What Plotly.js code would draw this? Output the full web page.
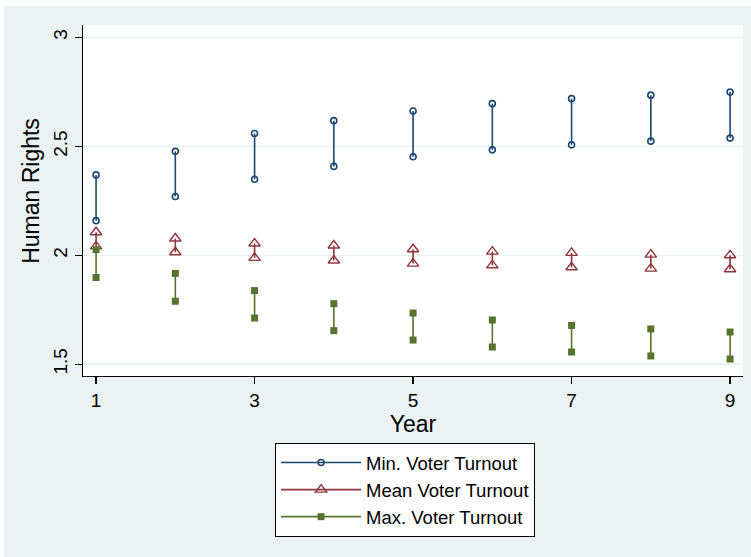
<!DOCTYPE html>
<html>
<head>
<meta charset="utf-8">
<script src="https://cdn.plot.ly/plotly-3.0.1.min.js"></script>
<style>
  html, body { margin: 0; padding: 0; background: #ffffff; }
  #chart { position: absolute; left: 4px; top: 6px; width: 747px; height: 551px; }
</style>
</head>
<body>
<div id="chart"></div>
<script>
// Data
const years = [1, 2, 3, 4, 5, 6, 7, 8, 9];
const minHi = [2.369, 2.477, 2.559, 2.618, 2.662, 2.696, 2.719, 2.735, 2.749];
const minLo = [2.159, 2.270, 2.349, 2.408, 2.452, 2.484, 2.507, 2.524, 2.538];
const meanHi = [2.106, 2.077, 2.054, 2.045, 2.028, 2.017, 2.011, 2.003, 2.000];
const meanLo = [2.041, 2.014, 1.988, 1.976, 1.962, 1.954, 1.945, 1.939, 1.936];
const maxHi = [2.026, 1.917, 1.838, 1.778, 1.735, 1.703, 1.678, 1.662, 1.648];
const maxLo = [1.898, 1.789, 1.712, 1.654, 1.611, 1.579, 1.556, 1.538, 1.524];
const seriesNames = ["Min. Voter Turnout", "Mean Voter Turnout", "Max. Voter Turnout"];
const xTicks = [1, 3, 5, 7, 9];
const yTicks = [1.5, 2, 2.5, 3];
const yTickText = ["1.5", "2", "2.5", "3"];
const xTitle = "Year";
const yTitle = "Human Rights";

function capPairs(hi, lo) {
  const xs = [], ys = [];
  years.forEach((yr, i) => {
    xs.push(yr, yr, null);
    ys.push(hi[i], lo[i], null);
  });
  return { xs, ys };
}

const styles = [
  { color: "#1a476f", symbol: "circle-open", size: 6, lw: 1.6 },
  { color: "#90353b", symbol: "triangle-up-open", size: 10, lw: 1.4 },
  { color: "#55752f", symbol: "square", size: 7, lw: 0 }
];
const pairs = [capPairs(minHi, minLo), capPairs(meanHi, meanLo), capPairs(maxHi, maxLo)];

const traces = pairs.map((p, k) => ({
  type: "scatter",
  mode: "lines+markers",
  x: p.xs,
  y: p.ys,
  name: seriesNames[k],
  connectgaps: false,
  line: { color: styles[k].color, width: 1.6 },
  marker: {
    symbol: styles[k].symbol,
    size: styles[k].size,
    color: styles[k].color,
    line: { color: styles[k].color, width: styles[k].lw }
  },
  hoverinfo: "x+y"
}));

const fontFam = "'Liberation Sans', Arial, Helvetica, sans-serif";

const layout = {
  width: 747,
  height: 551,
  paper_bgcolor: "#eaf2f3",
  plot_bgcolor: "#ffffff",
  margin: { l: 79, r: 8, t: 19, b: 181 },
  font: { family: fontFam, color: "#000000", size: 19 },
  showlegend: true,
  legend: {
    x: 0.291, xanchor: "left",
    y: -0.191, yanchor: "top",
    bgcolor: "#ffffff",
    bordercolor: "#000000",
    borderwidth: 1,
    font: { family: fontFam, size: 18.5, color: "#000000" },
    itemwidth: 80,
    traceorder: "normal"
  },
  xaxis: {
    range: [0.835, 9.163],
    tickvals: xTicks,
    ticktext: xTicks.map(String),
    ticks: "outside",
    ticklen: 7,
    tickwidth: 1.2,
    tickcolor: "#000000",
    showline: true,
    linecolor: "#000000",
    linewidth: 1.3,
    showgrid: false,
    zeroline: false,
    tickfont: { family: fontFam, size: 19 },
    title: { text: xTitle, font: { family: fontFam, size: 23 }, standoff: 0 }
  },
  yaxis: {
    range: [1.446, 3.057],
    tickvals: yTicks,
    ticktext: yTickText,
    tickangle: -90,
    ticks: "outside",
    ticklen: 7,
    tickwidth: 1.2,
    tickcolor: "#000000",
    showline: true,
    linecolor: "#000000",
    linewidth: 1.3,
    showgrid: true,
    gridcolor: "#eaf2f3",
    gridwidth: 1.5,
    zeroline: false,
    tickfont: { family: fontFam, size: 19 }
  },
  annotations: [{
    text: yTitle,
    textangle: -90,
    xref: "paper", yref: "paper",
    x: -0.08, y: 0.528,
    xanchor: "center", yanchor: "middle",
    showarrow: false,
    font: { family: fontFam, size: 23, color: "#000000" }
  }]
};

Plotly.newPlot("chart", traces, layout, { displayModeBar: false, staticPlot: true });
</script>
</body>
</html>
